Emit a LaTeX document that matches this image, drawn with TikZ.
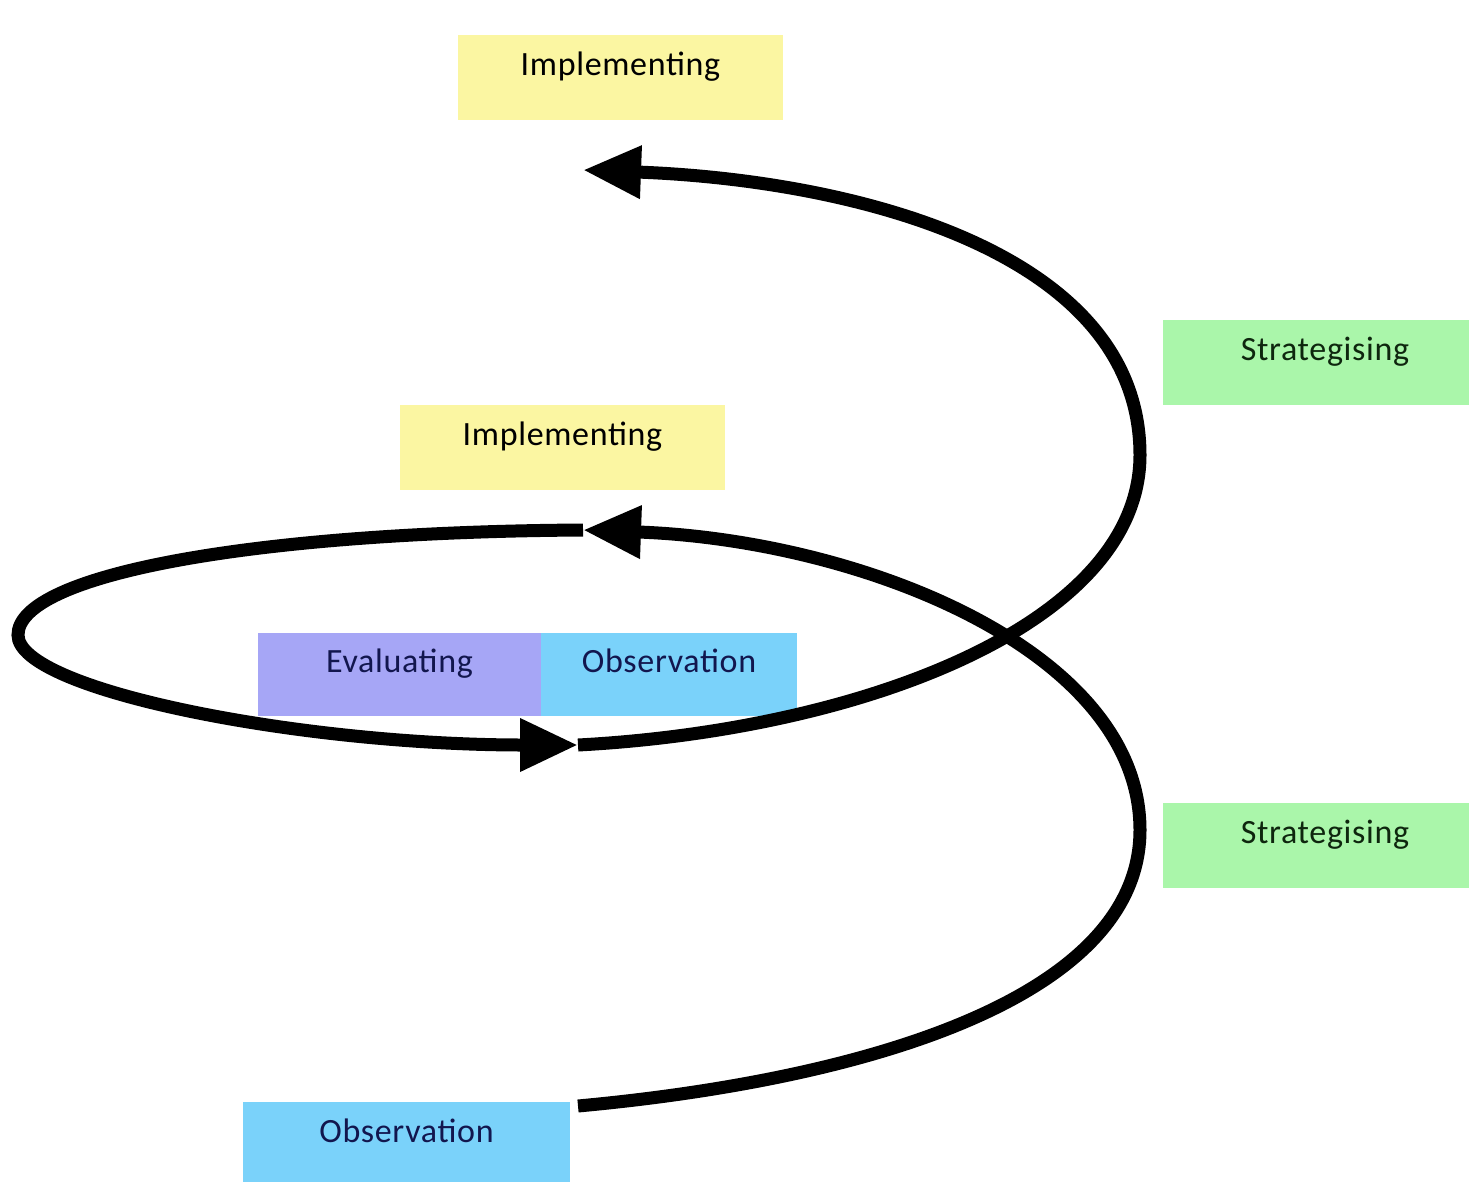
\documentclass[tikz,border=0pt]{standalone}
\usepackage{fontspec}
\setmainfont[LetterSpace=2]{Carlito}
\usetikzlibrary{arrows.meta}

\definecolor{implyellow}{RGB}{251,246,162}
\definecolor{stratgreen}{RGB}{170,246,170}
\definecolor{evalpurple}{RGB}{166,166,246}
\definecolor{obsblue}{RGB}{122,210,250}
\definecolor{darktext}{RGB}{18,22,78}
\definecolor{greentext}{RGB}{14,38,14}

\begin{document}
\begin{tikzpicture}[x=1pt,y=-1pt,>={Triangle[length=58pt,width=50pt]},
	stage/.style={rectangle,minimum width=325pt,minimum height=85pt,
		text height=24pt,text depth=28pt,inner sep=0pt,
		font=\fontsize{34}{40}\selectfont},
	spiral/.style={line width=13pt,->}]
\useasboundingbox[fill=white] (0,0) rectangle (1469,1181);
% boxes
\node[stage,fill=implyellow] (impltop) at (620.5,77.5) {Implementing};
\node[stage,fill=stratgreen,text=greentext] (strattop) at (1325,362) {Strategising};
\node[stage,fill=implyellow] (implmid) at (562.5,447.5) {Implementing};
\node[stage,fill=evalpurple,text=darktext,minimum width=283pt,minimum height=83pt]
	(eval) at (399.5,674.5) {Evaluating};
\node[stage,fill=obsblue,text=darktext,minimum width=256pt,minimum height=83pt]
	(obsmid) at (669,674.5) {Observation};
\node[stage,fill=stratgreen,text=greentext] (stratbot) at (1325,845.5) {Strategising};
\node[stage,fill=obsblue,text=darktext,minimum width=327pt] (obsbot) at (406.5,1144.5) {Observation};
% turning points of the spiral
\coordinate (start) at (578,1106);
\coordinate (tipmid) at (583,530);
\coordinate (tiploop) at (578,745);
\coordinate (tiptop) at (583,170);
\coordinate (rightlow) at (1140,830);
\coordinate (righthigh) at (1140,455);
\coordinate (leftmost) at (18,635);
% arrows
\draw[spiral] (start) .. controls (860,1080) and (1140,1000) .. (rightlow)
	.. controls (1140,650) and (860,540) .. (tipmid);
\draw[spiral] (tipmid) .. controls (250,532) and (18,575) .. (leftmost)
	.. controls (18,690) and (300,745) .. (tiploop);
\draw[spiral] (tiploop) .. controls (860,730) and (1140,625) .. (righthigh)
	.. controls (1140,250) and (850,180) .. (tiptop);
\end{tikzpicture}
\end{document}
